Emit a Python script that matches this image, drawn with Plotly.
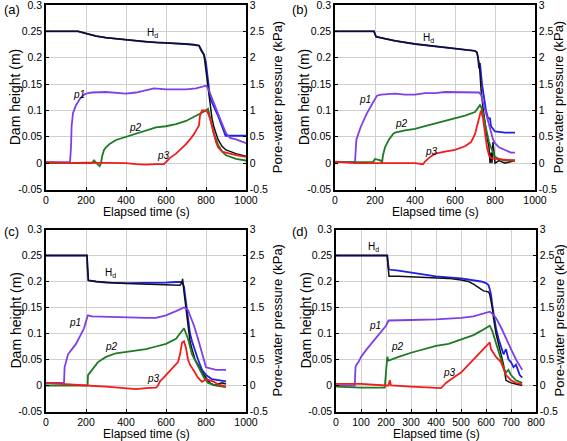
import plotly.graph_objects as go

# ---------------- data ----------------
# Panel (a)
a_hd_black_t = [0,160,200,250,300,350,400,450,500,550,600,650,700,740,765,770,775,790,800,810,820,830,840,860,880,900,950,1000]
a_hd_black = [0.25,0.25,0.246,0.241,0.238,0.236,0.234,0.232,0.230,0.229,0.228,0.227,0.226,0.225,0.223,0.218,0.214,0.205,0.175,0.135,0.105,0.085,0.068,0.045,0.032,0.025,0.018,0.013]
a_hd_blue_t = [0,160,200,250,300,400,500,600,700,765,775,790,800,810,820,830,840,850,860,870,880,890,898,905,1000]
a_hd_blue = [0.25,0.25,0.246,0.241,0.238,0.234,0.230,0.228,0.226,0.223,0.215,0.206,0.19,0.155,0.125,0.115,0.105,0.098,0.09,0.08,0.072,0.062,0.052,0.052,0.052]
a_p1_t = [0,120,125,128,135,150,170,190,210,230,300,350,400,450,500,540,600,650,700,750,790,800,810,820,840,860,880,900,920,950,980,1000]
a_p1 = [0.02,0.02,0.3,0.7,0.95,1.1,1.22,1.3,1.33,1.34,1.35,1.33,1.32,1.34,1.38,1.42,1.40,1.40,1.40,1.42,1.46,1.47,1.42,1.32,1.15,0.95,0.75,0.57,0.48,0.45,0.40,0.38]
a_p2_t = [0,230,240,250,260,268,275,280,290,300,320,350,400,450,500,550,600,650,700,750,780,800,810,815,825,840,860,880,900,950,1000]
a_p2 = [0.0,0.0,0.05,0.0,-0.03,-0.06,0.0,0.12,0.25,0.3,0.37,0.44,0.5,0.57,0.62,0.68,0.7,0.74,0.8,0.9,0.95,1.0,1.03,0.95,0.8,0.55,0.35,0.22,0.15,0.08,0.05]
a_p3_t = [0,100,200,300,400,450,500,550,590,600,620,650,680,700,720,740,755,765,770,775,780,800,810,820,830,840,850,860,880,900,950,1000]
a_p3 = [0.02,0.0,0.01,0.0,0.0,-0.02,-0.03,-0.02,-0.02,0.02,0.1,0.18,0.28,0.36,0.45,0.55,0.65,0.72,0.9,0.98,1.0,1.0,0.95,0.85,0.7,0.5,0.4,0.3,0.22,0.2,0.15,0.12]

# Panel (b)
b_hd_black_t = [0,195,200,205,250,300,400,500,600,650,700,710,715,720,725,730,740,750,760,770,775,780,785,790,795,800,820,850,900]
b_hd_black = [0.25,0.25,0.245,0.24,0.236,0.232,0.226,0.222,0.218,0.216,0.213,0.21,0.2,0.19,0.17,0.14,0.105,0.075,0.05,0.03,0.0,0.02,0.0,0.04,0.01,0.0,0.005,0.0,0.005]
b_hd_blue_t = [0,195,200,205,250,300,400,500,600,650,700,710,715,720,725,735,745,755,765,775,780,790,800,850,900]
b_hd_blue = [0.25,0.25,0.245,0.24,0.236,0.232,0.226,0.222,0.218,0.216,0.213,0.21,0.2,0.18,0.19,0.15,0.12,0.1,0.085,0.085,0.07,0.065,0.06,0.058,0.058]
b_p1_t = [0,100,103,107,130,160,190,210,230,300,350,400,450,500,550,600,650,700,720,730,740,750,760,770,780,790,800,820,850,880,900]
b_p1 = [0.02,0.02,0.2,0.45,0.7,0.95,1.15,1.28,1.3,1.32,1.3,1.3,1.33,1.33,1.35,1.35,1.35,1.35,1.34,1.3,1.15,1.0,0.85,0.7,0.55,0.45,0.38,0.3,0.25,0.2,0.2]
b_p2_t = [0,190,200,230,235,240,250,270,290,300,350,400,450,500,550,600,650,700,715,725,730,740,750,760,770,780,790,800,820,850,900]
b_p2 = [0.02,0.02,0.08,0.05,0.0,0.15,0.3,0.45,0.55,0.58,0.62,0.65,0.7,0.75,0.8,0.85,0.9,0.97,1.05,1.1,1.07,0.95,0.75,0.55,0.4,0.3,0.2,0.12,0.08,0.05,0.05]
b_p3_t = [0,100,200,300,400,440,450,470,500,550,600,650,680,700,710,720,730,740,750,760,770,780,800,850,900]
b_p3 = [0.03,0.0,0.0,0.0,0.0,-0.02,0.03,0.1,0.18,0.22,0.25,0.32,0.4,0.55,0.7,0.88,1.0,0.85,0.55,0.3,0.15,0.1,0.08,0.06,0.05]

# Panel (c)
c_hd_black_t = [0,205,208,212,250,300,350,400,500,600,650,670,680,683,690,700,710,720,730,745,760,780,800,820,840,860,880,900]
c_hd_black = [0.25,0.25,0.225,0.202,0.2,0.198,0.197,0.196,0.195,0.195,0.194,0.193,0.198,0.205,0.18,0.15,0.11,0.085,0.07,0.05,0.04,0.025,0.015,0.005,0.0,0.002,0.005,0.003]
c_hd_blue_t = [0,205,208,212,250,300,400,500,600,650,680,690,700,710,720,730,745,760,780,800,830,860,900]
c_hd_blue = [0.25,0.25,0.225,0.202,0.2,0.198,0.197,0.197,0.198,0.199,0.199,0.19,0.16,0.125,0.1,0.085,0.065,0.05,0.03,0.02,0.012,0.01,0.008]
c_p1_t = [0,85,90,93,100,110,130,150,170,190,205,210,230,300,400,500,550,600,650,680,690,700,710,720,740,760,780,800,850,900]
c_p1 = [0.05,0.05,0.05,0.35,0.45,0.6,0.7,0.8,0.95,1.1,1.3,1.35,1.33,1.32,1.3,1.3,1.3,1.35,1.43,1.48,1.5,1.48,1.45,1.35,1.15,0.9,0.6,0.35,0.3,0.3]
c_p2_t = [0,100,200,208,210,220,240,260,280,300,350,400,450,500,550,600,650,680,690,700,710,720,730,750,770,790,810,850,900]
c_p2 = [0.0,0.0,0.0,0.0,0.2,0.25,0.35,0.45,0.5,0.55,0.62,0.65,0.67,0.7,0.75,0.8,0.9,1.05,1.1,1.0,0.9,0.75,0.6,0.45,0.3,0.15,0.05,0.0,-0.03]
c_p3_t = [0,100,200,300,400,450,500,550,560,570,580,600,620,640,660,670,680,690,700,710,720,740,760,780,800,820,840,860,880,900]
c_p3 = [0.05,0.02,0.0,-0.02,-0.05,-0.07,-0.05,-0.04,0.0,0.08,0.12,0.2,0.28,0.35,0.45,0.6,0.82,0.85,0.72,0.5,0.4,0.28,0.15,0.07,0.12,0.1,0.07,0.02,0.0,-0.02]

# Panel (d)
d_hd_black_t = [0,205,208,212,250,300,400,450,500,530,550,570,590,600,610,615,620,625,630,640,650,660,670,680,690,700,720,745]
d_hd_black = [0.25,0.25,0.23,0.21,0.21,0.209,0.207,0.206,0.203,0.2,0.195,0.188,0.182,0.181,0.18,0.175,0.165,0.15,0.13,0.1,0.08,0.06,0.04,0.01,0.008,0.005,0.003,0.0]
d_hd_blue_t = [0,205,208,212,250,300,400,500,550,580,600,610,615,620,625,630,640,650,660,670,680,690,700,710,720,735,745]
d_hd_blue = [0.25,0.25,0.235,0.223,0.221,0.217,0.21,0.206,0.203,0.2,0.197,0.193,0.185,0.175,0.155,0.14,0.11,0.09,0.075,0.06,0.07,0.05,0.045,0.035,0.04,0.02,0.015]
d_p1_t = [0,75,78,82,90,100,120,140,160,180,200,210,250,300,400,500,550,580,600,615,625,640,660,680,700,720,740,745]
d_p1 = [0.0,0.0,0.35,0.4,0.45,0.55,0.68,0.8,0.9,1.02,1.15,1.25,1.25,1.26,1.27,1.3,1.33,1.37,1.4,1.42,1.38,1.3,1.12,0.9,0.7,0.5,0.35,0.3]
d_p2_t = [0,100,195,200,205,210,230,250,300,350,400,450,500,550,580,600,615,625,640,660,670,680,690,700,720,745]
d_p2 = [-0.02,-0.04,-0.04,0.3,0.55,0.48,0.52,0.55,0.63,0.7,0.76,0.8,0.88,0.97,1.05,1.1,1.15,1.05,0.8,0.5,0.35,0.25,0.3,0.2,0.1,0.05]
d_p3_t = [0,100,200,210,215,220,300,350,400,420,430,440,460,500,520,540,560,580,600,615,620,640,660,680,690,700,720,745]
d_p3 = [0.03,0.03,0.0,0.0,0.1,0.0,-0.02,-0.03,-0.05,-0.05,0.0,0.05,0.12,0.25,0.35,0.45,0.55,0.65,0.75,0.83,0.7,0.55,0.45,0.2,0.15,0.1,0.05,0.02]

# Axis ticks
left_ticks = [-0.05, 0, 0.05, 0.1, 0.15, 0.2, 0.25, 0.3]
left_labels = ["-0.05", "0", "0.05", "0.1", "0.15", "0.2", "0.25", "0.3"]
right_ticks = [-0.5, 0, 0.5, 1, 1.5, 2, 2.5, 3]
right_labels = ["-0.5", "0", "0.5", "1", "1.5", "2", "2.5", "3"]
x_ticks_1000 = [0, 200, 400, 600, 800, 1000]
x_ticks_800 = [0, 100, 200, 300, 400, 500, 600, 700, 800]

panel_letters = ["(a)", "(b)", "(c)", "(d)"]
# label positions (x, value): Hd on left axis, p1..p3 on right axis
hd_label = [(530, 0.247), (468, 0.237), (321, 0.216), (151, 0.266)]
p1_label = [(163, 1.30), (150, 1.20), (146, 1.22), (154, 1.15)]
p2_label = [(446, 0.68), (334, 0.75), (329, 0.75), (247, 0.75)]
p3_label = [(587, 0.14), (480, 0.22), (537, 0.14), (454, 0.25)]

# ---------------- figure ----------------
W, H = 567, 441
C_BLACK = "#111111"
C_BLUE = "#1f1fe6"
C_P1 = "#7f3fe8"
C_P2 = "#1d7a25"
C_P3 = "#f21c1c"
FONT = "Liberation Sans, Arial, sans-serif"
TICK_FONT = dict(size=10.5, family=FONT, color="black")

panels = [
    dict(hd_k=(a_hd_black_t, a_hd_black), hd_b=(a_hd_blue_t, a_hd_blue),
         p1=(a_p1_t, a_p1), p2=(a_p2_t, a_p2), p3=(a_p3_t, a_p3), xt=x_ticks_1000, xr=1000),
    dict(hd_k=(b_hd_black_t, b_hd_black), hd_b=(b_hd_blue_t, b_hd_blue),
         p1=(b_p1_t, b_p1), p2=(b_p2_t, b_p2), p3=(b_p3_t, b_p3), xt=x_ticks_1000, xr=1000),
    dict(hd_k=(c_hd_black_t, c_hd_black), hd_b=(c_hd_blue_t, c_hd_blue),
         p1=(c_p1_t, c_p1), p2=(c_p2_t, c_p2), p3=(c_p3_t, c_p3), xt=x_ticks_1000, xr=1000),
    dict(hd_k=(d_hd_black_t, d_hd_black), hd_b=(d_hd_blue_t, d_hd_blue),
         p1=(d_p1_t, d_p1), p2=(d_p2_t, d_p2), p3=(d_p3_t, d_p3), xt=x_ticks_800, xr=800),
]

# plot boxes in pixels (left, right, top, bottom)
boxes = [(46, 246, 5, 189.5), (335, 535, 5, 189.5), (46, 246, 229.5, 411.5), (336, 536, 229.5, 411.5)]
right_title_offset = [31, 23, 31, 23]
letter_pos = [(2, 9), (290, 9), (2, 231), (290, 231)]

fig = go.Figure()
layout = dict(width=W, height=H, margin=dict(l=0, r=0, t=0, b=0, autoexpand=False),
              paper_bgcolor="white", plot_bgcolor="white", showlegend=False,
              font=dict(family=FONT, color="black"))
annotations = []

for i, (p, box) in enumerate(zip(panels, boxes)):
    xl, xr_, yt, yb = box
    xd = [xl / W, xr_ / W]
    yd = [1 - yb / H, 1 - yt / H]
    xn = "x" if i == 0 else f"x{i+1}"
    yl = 2 * i + 1
    yr = 2 * i + 2
    yln = "y" if yl == 1 else f"y{yl}"
    yrn = f"y{yr}"
    xkey = "xaxis" if i == 0 else f"xaxis{i+1}"
    ylkey = "yaxis" if yl == 1 else f"yaxis{yl}"
    yrkey = f"yaxis{yr}"

    common = dict(zeroline=False, showline=True, linecolor="black", linewidth=1.5,
                  ticks="inside", ticklen=3, tickcolor="black", tickfont=TICK_FONT,
                  ticklabeloverflow="allow")
    layout[xkey] = dict(domain=xd, anchor=yln, range=[0, p["xr"]], tickvals=p["xt"],
                        ticktext=[str(v) for v in p["xt"]], showgrid=True, gridcolor="#cfcfcf",
                        gridwidth=1, mirror=True, **common)
    layout[ylkey] = dict(domain=yd, anchor=xn, range=[-0.05, 0.3], tickvals=left_ticks,
                         ticktext=left_labels, showgrid=True, gridcolor="#cfcfcf", gridwidth=1,
                         **common)
    layout[yrkey] = dict(overlaying=yln, anchor=xn, side="right", range=[-0.5, 3],
                         tickvals=right_ticks, ticktext=right_labels, showgrid=False, **common)

    fig.add_trace(go.Scatter(x=p["hd_b"][0], y=p["hd_b"][1], mode="lines",
                             line=dict(color=C_BLUE, width=1.8), xaxis=xn, yaxis=yln))
    fig.add_trace(go.Scatter(x=p["hd_k"][0], y=p["hd_k"][1], mode="lines",
                             line=dict(color=C_BLACK, width=1.5), xaxis=xn, yaxis=yln))
    fig.add_trace(go.Scatter(x=p["p1"][0], y=p["p1"][1], mode="lines",
                             line=dict(color=C_P1, width=1.8), xaxis=xn, yaxis=yrn))
    fig.add_trace(go.Scatter(x=p["p2"][0], y=p["p2"][1], mode="lines",
                             line=dict(color=C_P2, width=1.8), xaxis=xn, yaxis=yrn))
    fig.add_trace(go.Scatter(x=p["p3"][0], y=p["p3"][1], mode="lines",
                             line=dict(color=C_P3, width=1.8), xaxis=xn, yaxis=yrn))

    # in-plot labels
    annotations.append(dict(x=hd_label[i][0], y=hd_label[i][1], xref=xn, yref=yln,
                            text="H<sub>d</sub>", showarrow=False,
                            font=dict(size=10, family=FONT, color="black")))
    for lab, pos in (("p1", p1_label[i]), ("p2", p2_label[i]), ("p3", p3_label[i])):
        annotations.append(dict(x=pos[0], y=pos[1], xref=xn, yref=yrn,
                                text=f"<i>{lab}</i>", showarrow=False,
                                font=dict(size=10, family=FONT, color="black")))

    # axis titles
    yc = 1 - ((yt + yb) / 2) / H
    annotations.append(dict(x=(xl - 31) / W, y=yc, xref="paper", yref="paper",
                            text="Dam height (m)", textangle=-90, showarrow=False,
                            xanchor="center", yanchor="middle",
                            font=dict(size=14, family=FONT, color="black")))
    annotations.append(dict(x=(xr_ + right_title_offset[i]) / W, y=yc, xref="paper", yref="paper",
                            text="Pore-water pressure (kPa)", textangle=-90, showarrow=False,
                            xanchor="center", yanchor="middle",
                            font=dict(size=13, family=FONT, color="black")))
    annotations.append(dict(x=((xl + xr_) / 2) / W, y=1 - (yb + 22.5) / H, xref="paper", yref="paper",
                            text="Elapsed time (s)", showarrow=False,
                            xanchor="center", yanchor="middle",
                            font=dict(size=12, family=FONT, color="black")))
    # panel letter
    lx, ly = letter_pos[i]
    annotations.append(dict(x=lx / W, y=1 - ly / H, xref="paper", yref="paper",
                            text=panel_letters[i], showarrow=False, xanchor="left", yanchor="middle",
                            font=dict(size=13, family=FONT, color="black")))

layout["annotations"] = annotations
fig.update_layout(**layout)
fig.write_html("out.html", config={"displayModeBar": False},
               post_script="document.body.style.margin='0px';")
